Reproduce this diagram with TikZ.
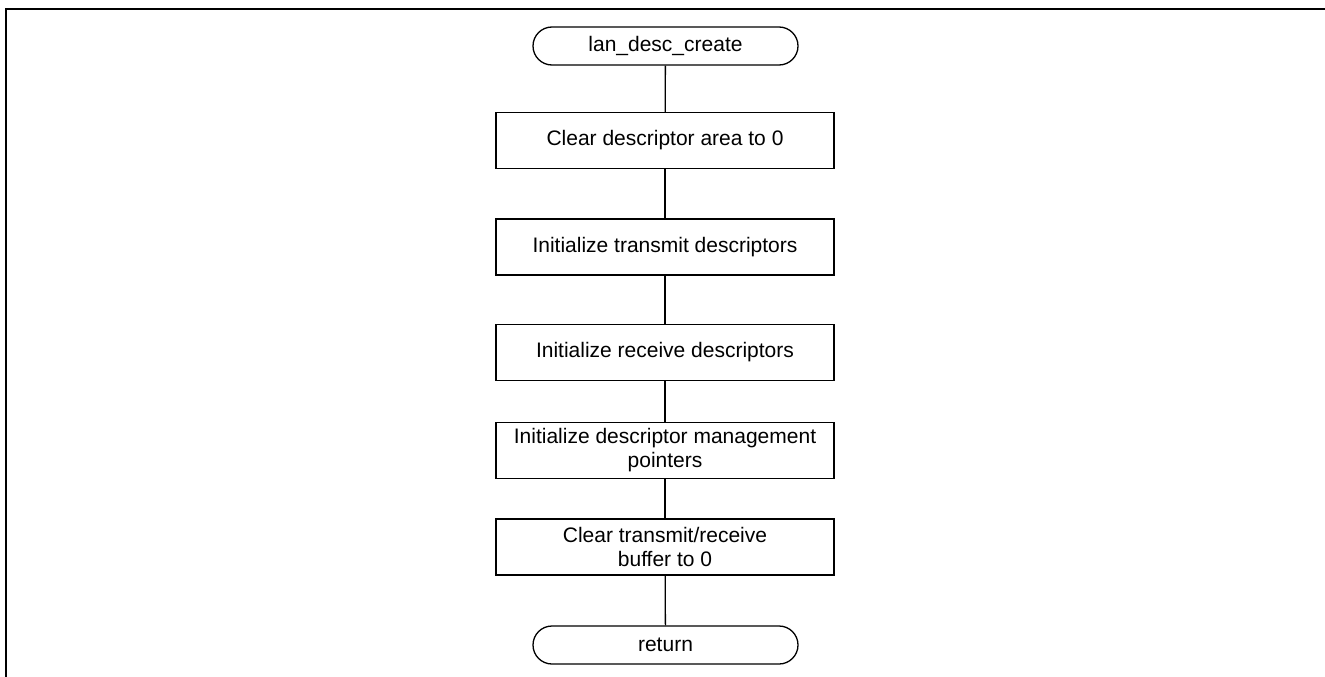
\documentclass[tikz,border=0pt]{standalone}
\usepackage{fontspec}
\setmainfont{Liberation Sans}
\usetikzlibrary{shapes.misc}
\begin{document}
\begin{tikzpicture}[x=1pt,y=-1pt,
  proc/.style={draw,line width=1.3pt,minimum width=338pt,minimum height=56pt,inner sep=0pt,align=center,font=\fontsize{21}{24}\selectfont},
  term/.style={draw,line width=1.3pt,rounded rectangle,minimum width=265pt,minimum height=38pt,inner sep=0pt,font=\fontsize{21}{24}\selectfont},
  conn/.style={line width=1.3pt},
  frame/.style={line width=2pt}]
\useasboundingbox (0,0) rectangle (1325,677);
\coordinate (ftr) at (1325,8.7);
\coordinate (ftl) at (5.7,8.7);
\coordinate (fbl) at (5.7,677);
\draw[frame] (ftr) -- (ftl) -- (fbl);
\node[term] (s) at (665.5,46) {lan\_desc\_create};
\node[proc] (b1) at (665,140.5) {Clear descriptor area to 0};
\node[proc] (b2) at (665,247) {Initialize transmit descriptors};
\node[proc] (b3) at (665,352.5) {Initialize receive descriptors};
\node[proc] (b4) at (665,450.5) {Initialize descriptor management\\pointers};
\node[proc] (b5) at (665,547) {Clear transmit/receive\\buffer to 0};
\node[term] (r) at (665.5,645) {return};
\draw[conn] (s) -- (b1);
\draw[conn] (b1) -- (b2);
\draw[conn] (b2) -- (b3);
\draw[conn] (b3) -- (b4);
\draw[conn] (b4) -- (b5);
\draw[conn] (b5) -- (r);
\end{tikzpicture}
\end{document}
